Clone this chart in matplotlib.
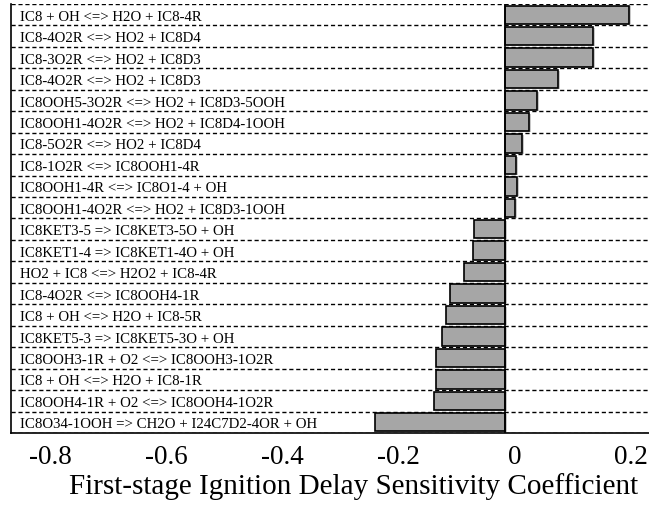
import matplotlib
matplotlib.use('Agg')
import matplotlib.pyplot as plt
from matplotlib.transforms import ScaledTranslation

# reactions listed top to bottom
reactions = [
    'IC8 + OH <=> H2O + IC8-4R',
    'IC8-4O2R <=> HO2 + IC8D4',
    'IC8-3O2R <=> HO2 + IC8D3',
    'IC8-4O2R <=> HO2 + IC8D3',
    'IC8OOH5-3O2R <=> HO2 + IC8D3-5OOH',
    'IC8OOH1-4O2R <=> HO2 + IC8D4-1OOH',
    'IC8-5O2R <=> HO2 + IC8D4',
    'IC8-1O2R <=> IC8OOH1-4R',
    'IC8OOH1-4R <=> IC8O1-4 + OH',
    'IC8OOH1-4O2R <=> HO2 + IC8D3-1OOH',
    'IC8KET3-5 => IC8KET3-5O + OH',
    'IC8KET1-4 => IC8KET1-4O + OH',
    'HO2 + IC8 <=> H2O2 + IC8-4R',
    'IC8-4O2R <=> IC8OOH4-1R',
    'IC8 + OH <=> H2O + IC8-5R',
    'IC8KET5-3 => IC8KET5-3O + OH',
    'IC8OOH3-1R + O2 <=> IC8OOH3-1O2R',
    'IC8 + OH <=> H2O + IC8-1R',
    'IC8OOH4-1R + O2 <=> IC8OOH4-1O2R',
    'IC8O34-1OOH => CH2O + I24C7D2-4OR + OH',
]
sensitivity = [0.213, 0.151, 0.151, 0.091, 0.055, 0.041, 0.029, 0.019, 0.020, 0.017,
               -0.053, -0.055, -0.071, -0.095, -0.102, -0.108, -0.119, -0.119, -0.122, -0.224]
xticks = [-0.8, -0.6, -0.4, -0.2, 0, 0.2]
xticklabels = ['-0.8', '-0.6', '-0.4', '-0.2', '0', '0.2']

plt.rcParams['font.family'] = ['Liberation Serif', 'DejaVu Serif']

fig = plt.figure(figsize=(6.49, 5.09), dpi=100)
ax = fig.add_axes([11 / 649, 76 / 509, 638 / 649, 429 / 509])

n = len(reactions)
ypos = list(range(n))
# faint drop shadow, then the bars
ax.barh([y + 0.04 for y in ypos], sensitivity, height=0.86, left=0.004,
        color='#c8c8c8', linewidth=0, zorder=2.5)
ax.barh(ypos, sensitivity, height=0.86, color='#a6a6a6', edgecolor='black',
        linewidth=1.2, zorder=3)

# dashed row separators
for i in range(n + 1):
    ax.axhline(i - 0.5, color='black', linestyle=(0, (3, 2)), linewidth=1.0, zorder=2)
ax.axvline(0, color='black', linewidth=1.2, zorder=4)

for i, lab in enumerate(reactions):
    ax.text(0.014, i + 0.12, lab, transform=ax.get_yaxis_transform(),
            ha='left', va='center', fontsize=10.7, zorder=5)

ax.set_ylim(n - 0.5, -0.5)
ax.set_xlim(-0.850, 0.248)
ax.set_yticks([])
ax.set_xticks(xticks)
ax.set_xticklabels(xticklabels, fontsize=19.5)
ax.tick_params(axis='x', length=0, pad=9)
# labels in the original sit slightly right of the true tick spots
for t in ax.get_xticklabels():
    t.set_transform(t.get_transform() + ScaledTranslation(10 / 100, 0, fig.dpi_scale_trans))

ax.spines['top'].set_visible(False)
ax.spines['right'].set_visible(False)
ax.spines['left'].set_linewidth(1.2)
ax.spines['bottom'].set_linewidth(1.2)

ax.set_xlabel('First-stage Ignition Delay Sensitivity Coefficient', fontsize=21, labelpad=2)
ax.xaxis.label.set_x(0.5376)

fig.savefig('out.png', dpi=100)
